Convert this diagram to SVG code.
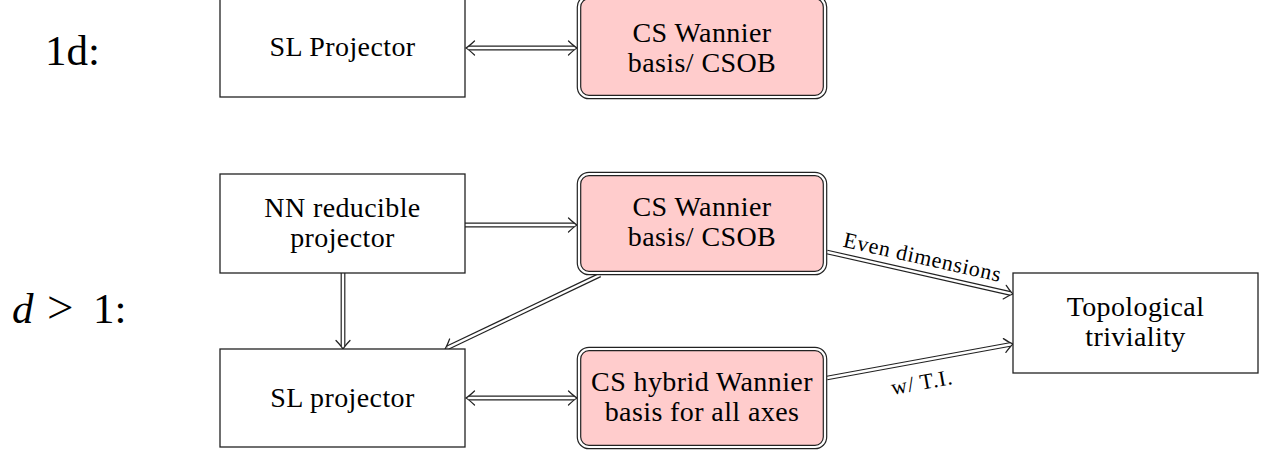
<svg xmlns="http://www.w3.org/2000/svg" xmlns:xlink="http://www.w3.org/1999/xlink" width="1266" height="450" viewBox="0 0 1266 450">
<style>
  .box { fill: #ffffff; stroke: #222; stroke-width: 1.3; }
  .dbl-fill { fill: #ffcccc; stroke: none; }
  .dbl-outer { fill: none; stroke: #222; stroke-width: 4.6; }
  .dbl-inner { fill: none; stroke: #ffffff; stroke-width: 2.2; }
  .t { font-family: "Liberation Serif", "Times New Roman", serif; font-size: 28px; fill: #000; text-anchor: middle; letter-spacing: 0.4px; }
  .big { font-family: "Liberation Serif", "Times New Roman", serif; font-size: 43px; fill: #000; }
  .lbl { font-family: "Liberation Serif", "Times New Roman", serif; font-size: 22px; fill: #000; text-anchor: middle; letter-spacing: 0.7px; }
  .lo { fill: none; stroke: #222; stroke-width: 4.8; }
  .li { fill: none; stroke: #ffffff; stroke-width: 2.4; }
</style>
<defs>
  <path id="imp" d="M-8.5,-7 Q-3,-1.8 0,0 Q-3,1.8 -8.5,7" fill="none" stroke="#222" stroke-width="1.25" stroke-linecap="round"/>
</defs>

<text class="big" x="45" y="65">1d:</text>
<text class="big" y="323"><tspan x="12" font-style="italic">d</tspan><tspan x="47" font-size="47px">&gt;</tspan><tspan x="93">1:</tspan></text>

<g id="connectors">
  <line class="lo" x1="469" y1="48" x2="574" y2="48"/>
  <line class="li" x1="469" y1="48" x2="574" y2="48"/>
  <use xlink:href="#imp" transform="translate(466,48) rotate(180)"/>
  <use xlink:href="#imp" transform="translate(577,48)"/>
  <line class="lo" x1="465" y1="225" x2="574" y2="225"/>
  <line class="li" x1="465" y1="225" x2="574" y2="225"/>
  <use xlink:href="#imp" transform="translate(577,225)"/>
  <line class="lo" x1="343" y1="273" x2="343" y2="346"/>
  <line class="li" x1="343" y1="273" x2="343" y2="346"/>
  <use xlink:href="#imp" transform="translate(343,349) rotate(90)"/>
  <line class="lo" x1="600" y1="275" x2="447.7" y2="347.7"/>
  <line class="li" x1="600" y1="275" x2="447.7" y2="347.7"/>
  <use xlink:href="#imp" transform="translate(445,349) rotate(154.2)"/>
  <line class="lo" x1="469" y1="398" x2="574" y2="398"/>
  <line class="li" x1="469" y1="398" x2="574" y2="398"/>
  <use xlink:href="#imp" transform="translate(466,398) rotate(180)"/>
  <use xlink:href="#imp" transform="translate(577,398)"/>
  <line class="lo" x1="827" y1="252" x2="1010.1" y2="293.3"/>
  <line class="li" x1="827" y1="252" x2="1010.1" y2="293.3"/>
  <use xlink:href="#imp" transform="translate(1013,294) rotate(12.66)"/>
  <line class="lo" x1="827" y1="378" x2="1010" y2="344.5"/>
  <line class="li" x1="827" y1="378" x2="1010" y2="344.5"/>
  <use xlink:href="#imp" transform="translate(1013,344) rotate(-10.3)"/>
  <text class="lbl" transform="translate(919,273) rotate(12.66)" x="0" y="-9">Even dimensions</text>
  <text class="lbl" transform="translate(918,361) rotate(-10.3)" x="0" y="29">w/ T.I.</text>
</g>

<g id="sl1">
  <rect class="box" x="220" y="-3" width="245" height="100"/>
  <text class="t" x="342.5" y="56">SL Projector</text>
</g>
<g id="cs1">
  <rect class="dbl-fill" x="579" y="-3" width="246" height="100" rx="10"/>
  <rect class="dbl-outer" x="579" y="-3" width="246" height="100" rx="10"/>
  <rect class="dbl-inner" x="579" y="-3" width="246" height="100" rx="10"/>
  <text class="t" x="702" y="42">CS Wannier</text>
  <text class="t" x="702" y="72">basis/ CSOB</text>
</g>

<g id="nn">
  <rect class="box" x="220" y="174" width="245" height="99"/>
  <text class="t" x="342.5" y="217">NN reducible</text>
  <text class="t" x="342.5" y="247">projector</text>
</g>
<g id="cs2">
  <rect class="dbl-fill" x="579" y="174" width="246" height="99" rx="10"/>
  <rect class="dbl-outer" x="579" y="174" width="246" height="99" rx="10"/>
  <rect class="dbl-inner" x="579" y="174" width="246" height="99" rx="10"/>
  <text class="t" x="702" y="216">CS Wannier</text>
  <text class="t" x="702" y="246">basis/ CSOB</text>
</g>

<g id="sl2">
  <rect class="box" x="220" y="349" width="245" height="98"/>
  <text class="t" x="342.5" y="407">SL projector</text>
</g>
<g id="hyb">
  <rect class="dbl-fill" x="579" y="349" width="246" height="98" rx="10"/>
  <rect class="dbl-outer" x="579" y="349" width="246" height="98" rx="10"/>
  <rect class="dbl-inner" x="579" y="349" width="246" height="98" rx="10"/>
  <text class="t" x="702" y="391">CS hybrid Wannier</text>
  <text class="t" x="702" y="421">basis for all axes</text>
</g>

<g id="topo">
  <rect class="box" x="1013" y="273" width="245" height="100"/>
  <text class="t" x="1135.5" y="316">Topological</text>
  <text class="t" x="1135.5" y="346">triviality</text>
</g>
</svg>
